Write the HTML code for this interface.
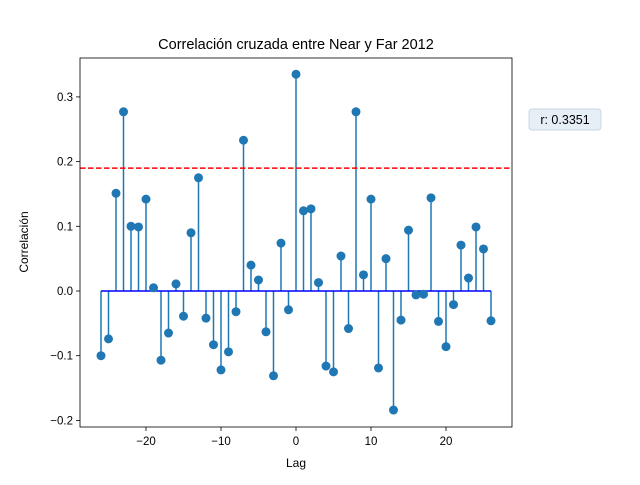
<!DOCTYPE html>
<html><head><meta charset="utf-8"><style>
body{margin:0;background:#fff;}
svg text{font-family:"Liberation Sans","DejaVu Sans",sans-serif;}
</style></head><body>
<svg id="c" width="640" height="480" xmlns="http://www.w3.org/2000/svg">
<rect width="640" height="480" fill="#fff"/>
<text x="296" y="49" font-size="14.5" text-anchor="middle">Correlación cruzada entre Near y Far 2012</text>
<text x="296" y="467" font-size="12" text-anchor="middle">Lag</text>
<text x="28" y="242" font-size="12" text-anchor="middle" transform="rotate(-90 28 242)">Correlación</text>
<g id="marks"></g>
<rect x="80" y="58" width="432" height="369" fill="none" stroke="#000" stroke-width="0.8"/>
<rect x="529" y="109" width="72" height="21" rx="3" fill="#e6eef6" stroke="#c9d7e5"/>
<text x="565" y="124" font-size="12.5" text-anchor="middle">r: 0.3351</text>
</svg>
<script>
const lags=[-26,-25,-24,-23,-22,-21,-20,-19,-18,-17,-16,-15,-14,-13,-12,-11,-10,-9,-8,-7,-6,-5,-4,-3,-2,-1,0,1,2,3,4,5,6,7,8,9,10,11,12,13,14,15,16,17,18,19,20,21,22,23,24,25,26];
const corr=[-0.100,-0.074,0.151,0.277,0.100,0.099,0.142,0.005,-0.107,-0.065,0.011,-0.039,0.090,0.175,-0.042,-0.083,-0.122,-0.094,-0.032,0.233,0.040,0.017,-0.063,-0.131,0.074,-0.029,0.335,0.124,0.127,0.013,-0.116,-0.125,0.054,-0.058,0.277,0.025,0.142,-0.119,0.050,-0.184,-0.045,0.094,-0.006,-0.005,0.144,-0.047,-0.086,-0.021,0.071,0.020,0.099,0.065,-0.046];
const threshold=[0.19];
const xTicks=[-20,-10,0,10,20];
const yTicks=[-0.2,-0.1,0.0,0.1,0.2,0.3];
const X=v=>296+v*7.5, Y=v=>291-v*647;
const NS="http://www.w3.org/2000/svg";
const svg=document.getElementById('c'), g=document.getElementById('marks');
function mk(t,a,p){const e=document.createElementNS(NS,t);for(const k in a)e.setAttribute(k,a[k]);(p||g).appendChild(e);return e;}
xTicks.forEach(t=>{
 const l=mk('line',{x1:X(t),x2:X(t),y1:427,y2:431,stroke:'#000','stroke-width':0.8});
 
 
 const tx=mk('text',{x:X(t),y:445,'font-size':11.5,'text-anchor':'middle'});tx.textContent=(t<0?'−'+(-t):t);
 
 
});
yTicks.forEach(t=>{
 const l=mk('line',{x1:76,x2:80,y1:Y(t),y2:Y(t),stroke:'#000','stroke-width':0.8});
 
 
 const tx=mk('text',{x:73,y:Y(t)+4,'font-size':11.5,'text-anchor':'end'});tx.textContent=(t<0?'−'+(-t).toFixed(1):t.toFixed(1));
 
 
});
lags.forEach((l,i)=>{
 const s=mk('line',{x1:X(l),x2:X(l),y1:Y(0),y2:Y(corr[i]),stroke:'#1f77b4','stroke-width':1.5});
 
 
});
const base=mk('line',{x1:X(lags[0]),x2:X(lags[lags.length-1]),y1:Y(0),y2:Y(0),stroke:'#0000ff','stroke-width':1.5});


lags.forEach((l,i)=>{
 const c=mk('circle',{cx:X(l),cy:Y(corr[i]),r:4.5,fill:'#1f77b4'});
 
 
});
threshold.forEach(t=>{
 const d=mk('line',{x1:80,x2:512,y1:Y(t),y2:Y(t),stroke:'#ff0000','stroke-width':1.5,'stroke-dasharray':'5.5,2.5'});
 
 
});
</script>
</body></html>
